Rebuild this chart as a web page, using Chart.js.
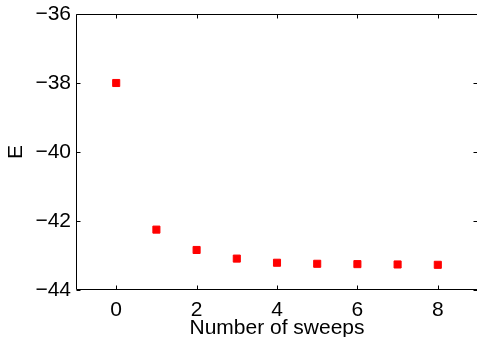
<!DOCTYPE html>
<html>
<head>
<meta charset="utf-8">
<script src="https://cdn.jsdelivr.net/npm/chart.js@4/dist/chart.umd.min.js"></script>
<style>
  html, body { margin: 0; padding: 0; background: #fff; overflow: hidden; }
  #wrap { width: 484px; height: 337px; }
</style>
</head>
<body>
<div id="wrap"><canvas id="grafica" width="484" height="337"></canvas></div>
<script>
// datos
const barridos = [0, 1, 2, 3, 4, 5, 6, 7, 8];
const energia = [-38.0, -42.25, -42.84, -43.09, -43.21, -43.24, -43.25, -43.26, -43.27];
const ticksX = [0, 2, 4, 6, 8];
const ticksY = [-44, -42, -40, -38, -36];

const fuente = { family: '"Liberation Sans", Arial, Helvetica, sans-serif', size: 21 };

// caja tipo matlab con ticks hacia dentro
const cajaMatlab = {
  id: 'cajaMatlab',
  afterDraw(chart) {
    const { ctx, chartArea: a, scales } = chart;
    const L = Math.round(a.left) + 0.5, R = Math.round(a.right) - 0.5;
    const T = Math.round(a.top) + 0.5, B = Math.round(a.bottom) - 0.5;
    ctx.save();
    ctx.strokeStyle = '#000';
    ctx.lineWidth = 1;
    ctx.beginPath();
    ctx.rect(L, T, R - L, B - T);
    ticksX.forEach(v => {
      const x = Math.round(scales.x.getPixelForValue(v)) + 0.5;
      ctx.moveTo(x, B); ctx.lineTo(x, B - 4);
      ctx.moveTo(x, T); ctx.lineTo(x, T + 4);
    });
    ticksY.forEach(v => {
      const y = Math.round(scales.y.getPixelForValue(v)) + 0.5;
      ctx.moveTo(L, y); ctx.lineTo(L + 4, y);
      ctx.moveTo(R, y); ctx.lineTo(R - 4, y);
    });
    ctx.stroke();
    ctx.restore();
  }
};

// sin relleno automatico por las etiquetas
function sinPadding(s) {
  s.paddingTop = 0;
  s.paddingBottom = 0;
  s.paddingLeft = 0;
  s.paddingRight = 0;
}

new Chart(document.getElementById('grafica'), {
  type: 'scatter',
  data: {
    datasets: [{
      data: barridos.map((x, i) => ({ x, y: energia[i] })),
      backgroundColor: '#ff0000',
      borderColor: '#ff0000',
      borderWidth: 1,
      pointStyle: 'rect',
      pointRadius: 5,
      pointHoverRadius: 5
    }]
  },
  options: {
    responsive: false,
    devicePixelRatio: 1,
    animation: false,
    layout: { padding: { top: 14, right: 2, left: 0, bottom: 0 } },
    plugins: { legend: { display: false }, tooltip: { enabled: false } },
    scales: {
      x: {
        type: 'linear',
        min: -1,
        max: 9,
        grid: { display: false, drawTicks: false },
        border: { display: false },
        afterBuildTicks: s => { s.ticks = ticksX.map(v => ({ value: v })); },
        afterFit: s => { s.height = 47; sinPadding(s); },
        ticks: { color: '#000', font: fuente, padding: 8, maxRotation: 0 },
        title: {
          display: true,
          text: 'Number of sweeps',
          color: '#000',
          font: fuente,
          padding: { top: 0, bottom: -4 }
        }
      },
      y: {
        min: -44,
        max: -36,
        grid: { display: false, drawTicks: false },
        border: { display: false },
        afterBuildTicks: s => { s.ticks = ticksY.map(v => ({ value: v })); },
        afterFit: s => { s.width = 76; sinPadding(s); },
        ticks: {
          color: '#000',
          font: fuente,
          padding: 5,
          callback: v => String(v).replace('-', '\u2212')
        },
        title: {
          display: true,
          text: 'E',
          color: '#000',
          font: fuente,
          padding: { top: 4, bottom: 0 }
        }
      }
    }
  },
  plugins: [cajaMatlab]
});
</script>
</body>
</html>
